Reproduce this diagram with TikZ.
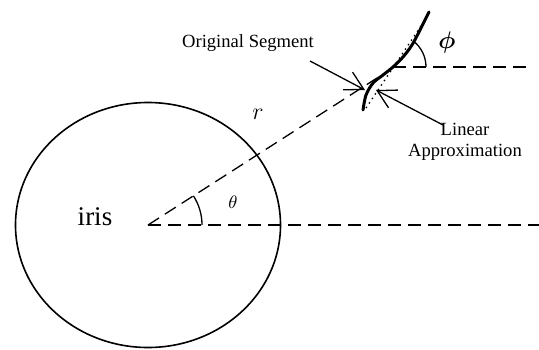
\documentclass[tikz,border=0pt]{standalone}
\usepackage{fontspec}
\setmainfont{Liberation Serif}
\usepackage{bm}
\usetikzlibrary{arrows.meta}

\begin{document}
\begin{tikzpicture}[x=0.5pt, y=0.5pt,
                guide/.style={dash pattern=on 6.5pt off 3.5pt, line width=0.65pt},
                seg/.style={line width=1.5pt, line cap=round},
                approx/.style={dotted, line width=0.7pt},
                lbl/.style={font=\fontsize{9.3}{10.5}\selectfont,
                align=center, inner sep=0pt},
                sym/.style={inner sep=0pt},
                arr/.style={-{Straight Barb[length=9pt,width=10pt]}, line width=0.65pt}]
                \useasboundingbox (-148,-124) rectangle (391,225);
                % iris
                \coordinate (O) at (0,0);
                \draw[line width=0.8pt] (O) ellipse[x radius=66.25pt, y radius=61.25pt];
                \node[font=\fontsize{13.5}{16}\selectfont] (iris) at (-53,8) {iris};
                % radius and angle theta
                \coordinate (P) at (229,147);
                \coordinate (E) at (391,0);
                \draw[guide] (O) -- (P);
                \draw[guide] (O) -- (E);
                \draw[line width=0.65pt] (O) ++(27pt,0) arc[start angle=0, end angle=32.7, radius=27pt];
                \node[sym, font=\small] (theta) at (85,23) {$\theta$};
                \node[sym, font=\large] (r) at (110,111) {$r$};
                % segment and its approximation
                \draw[seg] plot[smooth] coordinates {(215,115) (218,130) (225,142) (235,150)
                    (245,158) (255,168) (264,180) (272,195) (281,213)};
                \coordinate (L1) at (218,117);
                \coordinate (L2) at (277,205);
                \draw[approx] (L1) -- (L2);
                % angle phi
                \coordinate (A) at (245,158);
                \coordinate (F) at (379,158);
                \draw[guide] (A) -- (F);
                \draw[line width=0.65pt] (A) ++(16.5pt,0) arc[start angle=0, end angle=52, radius=16.5pt];
                \node[sym, font=\large] (phi) at (299,183) {$\bm{\phi}$};
                % labels
                \node[lbl] (orig) at (100,182) {Original Segment};
                \node[lbl] (lin) at (317,83) {Linear\\Approximation};
                \coordinate (origtail) at (162,164);
                \coordinate (origtip) at (217,135);
                \coordinate (lintail) at (295,100);
                \coordinate (lintip) at (228,135);
                \draw[arr] (origtail) -- (origtip);
                \draw[arr] (lintail) -- (lintip);
            \end{tikzpicture}
\end{document}
